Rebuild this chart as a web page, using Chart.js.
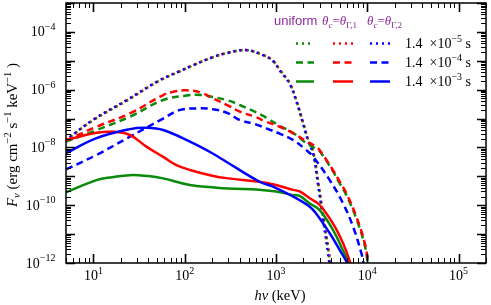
<!DOCTYPE html>
<html>
<head>
<meta charset="utf-8">
<script src="https://cdn.jsdelivr.net/npm/chart.js@4.4.1/dist/chart.umd.min.js"></script>
<style>
  html, body { margin: 0; padding: 0; background: #fff; }
</style>
</head>
<body>
<canvas id="sedChart" width="491" height="305"></canvas>
<script>
// photon energy (keV) and flux density (erg cm^-2 s^-1 keV^-1)

// 1.4e-5 s (dotted)
const energyDot = [5, 10, 23, 52, 87, 122, 203, 285, 470, 720, 925, 1100, 1410, 1670, 1980, 2240, 2550, 2890, 3280, 3720, 4000];
const fluxDotUniform = [1.8e-8, 8.9e-8, 4.1e-7, 2.0e-6, 4.2e-6, 6.8e-6, 1.32e-5, 1.82e-5, 2.34e-5, 1.58e-5, 1.0e-5, 4.8e-6, 1.66e-6, 4.2e-7, 7.1e-8, 1.9e-8, 7.1e-9, 6.3e-10, 4.2e-11, 3.2e-12, 6.3e-13];
const fluxDotTheta1 = [1.8e-8, 9.1e-8, 4.2e-7, 2.0e-6, 4.3e-6, 6.9e-6, 1.33e-5, 1.83e-5, 2.34e-5, 1.6e-5, 1.02e-5, 4.9e-6, 1.7e-6, 4.4e-7, 7.5e-8, 2.0e-8, 7.6e-9, 7.0e-10, 4.8e-11, 3.8e-12, 8.0e-13];
const fluxDotTheta2 = [1.8e-8, 9.3e-8, 4.3e-7, 2.05e-6, 4.3e-6, 6.9e-6, 1.33e-5, 1.83e-5, 2.34e-5, 1.56e-5, 9.8e-6, 4.6e-6, 1.58e-6, 3.9e-7, 6.5e-8, 1.7e-8, 6.0e-9, 5.0e-10, 3.2e-11, 2.0e-12, 4.0e-13];

// 1.4e-4 s (dashed)
const energyDashUniform = [5, 10.8, 25, 58, 105, 150, 203, 300, 400, 600, 780, 1100, 1535, 2150, 2750, 3000, 4200, 5000, 5900, 7600, 9400, 10200, 11000];
const fluxDashUniform = [1.58e-8, 4.0e-8, 1.15e-7, 4.4e-7, 6.3e-7, 6.6e-7, 5.6e-7, 4.2e-7, 2.95e-7, 1.66e-7, 1.07e-7, 5.6e-8, 3.2e-8, 1.41e-8, 8.9e-9, 7.6e-9, 1.51e-9, 5.6e-10, 2.24e-10, 3.4e-11, 4.0e-12, 8.9e-13, 2.0e-13];
const energyDashTheta1 = [5, 10.8, 25, 58, 75, 105, 150, 203, 300, 400, 600, 780, 1100, 1535, 2150, 2750, 3000, 4200, 5000, 5900, 7600, 9400, 10200, 11000];
const fluxDashTheta1 = [1.74e-8, 5.2e-8, 1.5e-7, 6.5e-7, 8.5e-7, 9.5e-7, 7.9e-7, 5.0e-7, 2.8e-7, 1.74e-7, 1.12e-7, 7.8e-8, 5.2e-8, 3.1e-8, 1.66e-8, 1.05e-8, 8.1e-9, 1.66e-9, 6.5e-10, 2.6e-10, 4.0e-11, 4.8e-12, 1.12e-12, 2.5e-13];
const energyDashTheta2 = [5, 10.8, 25, 58, 87, 133, 203, 300, 400, 600, 780, 1100, 1535, 2150, 2550, 3880, 5430, 7000, 8650, 9000, 9800];
const fluxDashTheta2 = [1.74e-9, 5.5e-9, 2.34e-8, 1.0e-7, 1.95e-7, 2.24e-7, 2.1e-7, 1.51e-7, 8.9e-8, 6.3e-8, 4.6e-8, 3.0e-8, 1.82e-8, 8.1e-9, 4.8e-9, 7.4e-10, 1.15e-10, 1.78e-11, 2.1e-12, 1.12e-12, 2.5e-13];

// 1.4e-3 s (solid)
const energySolidUniform = [5, 10.8, 16, 25, 40, 58, 114, 200, 300, 660, 1000, 1535, 1820, 2340, 3010, 4220, 5200, 6170, 6600];
const fluxSolidUniform = [2.8e-10, 7.4e-10, 9.3e-10, 1.1e-9, 1.02e-9, 8.5e-10, 5.0e-10, 4.2e-10, 3.8e-10, 3.4e-10, 3.0e-10, 2.24e-10, 2.1e-10, 1.15e-10, 6.8e-11, 1.38e-11, 3.6e-12, 1.12e-12, 5.0e-13];
const energySolidTheta1 = [5, 10.8, 16, 25, 38, 58, 80, 114, 200, 300, 660, 1000, 1535, 1820, 2340, 3010, 4220, 5430, 6460, 7000];
const fluxSolidTheta1 = [1.82e-8, 3.2e-8, 3.5e-8, 2.7e-8, 1.07e-8, 4.7e-9, 2.5e-9, 1.66e-9, 1.05e-9, 8.5e-10, 6.5e-10, 5.0e-10, 3.4e-10, 3.0e-10, 1.74e-10, 1.02e-10, 2.3e-11, 4.8e-12, 1.12e-12, 4.0e-13];
const energySolidTheta2 = [5, 10.8, 25, 38, 58, 114, 200, 285, 660, 925, 1535, 2340, 2750, 3880, 5000, 5900, 6400];
const fluxSolidTheta2 = [6.3e-9, 2.1e-8, 4.3e-8, 4.8e-8, 4.0e-8, 1.58e-8, 6.3e-9, 3.2e-9, 6.5e-10, 4.4e-10, 2.0e-10, 8.9e-11, 5.2e-11, 1.07e-11, 2.8e-12, 1.12e-12, 5.0e-13];

// axis ranges and labelled decades
const xRange = [5, 2e5];
const yRange = [1e-12, 1e-3];
const xTickExponents = [1, 2, 3, 4, 5];
const yTickExponents = [-12, -10, -8, -6, -4];
const legendTimes = [-5, -4, -3];

const GREEN = '#0a8a0a';
const RED = '#ff0000';
const BLUE = '#0000ff';
const PURPLE = '#8e2a9c';
const DOT = [2, 4];
const DASH = [7, 4.5];
const SERIF = '"Liberation Serif", "Times New Roman", serif';
const SANS = '"Liberation Sans", Arial, sans-serif';

function makeSet(energies, fluxes, color, dash, order, dashOffset) {
  return {
    data: energies.map((e, i) => ({ x: e, y: fluxes[i] })),
    borderColor: color,
    borderDash: dash,
    borderDashOffset: dashOffset || 0,
    borderWidth: 2.5,
    borderCapStyle: 'butt',
    pointRadius: 0,
    fill: false,
    tension: 0.4,
    order: order
  };
}

// draw a run of text pieces (for super/subscripts)
function richWidth(ctx, parts) {
  let w = 0;
  parts.forEach(p => { ctx.font = p.font; w += ctx.measureText(p.text).width; });
  return w;
}
function drawRich(ctx, parts, x, y, align) {
  const w = richWidth(ctx, parts);
  let cx = align === 'center' ? x - w / 2 : align === 'right' ? x - w : x;
  parts.forEach(p => {
    ctx.font = p.font;
    ctx.fillText(p.text, cx, y + (p.dy || 0));
    cx += ctx.measureText(p.text).width;
  });
}
function powerParts(exp) {
  return [
    { text: '10', font: `14px ${SERIF}` },
    { text: exp < 0 ? '\u2212' + (-exp) : String(exp), font: `10px ${SERIF}`, dy: -6.5 }
  ];
}

// frame, inward ticks, labels, titles and the legend grid
const decorPlugin = {
  id: 'decor',
  afterDraw(chart) {
    const { ctx, chartArea: a, scales: { x, y } } = chart;
    ctx.save();
    ctx.strokeStyle = '#000';
    ctx.fillStyle = '#000';

    // ticks on x (bottom + top)
    for (let d = 0; d <= 5; d++) {
      for (let k = 1; k <= 9; k++) {
        const v = k * Math.pow(10, d);
        if (v < xRange[0] || v > xRange[1]) continue;
        const px = Math.round(x.getPixelForValue(v)) + 0.5;
        const len = k === 1 ? 9 : 5;
        ctx.lineWidth = k === 1 ? 1.6 : 1;
        ctx.beginPath();
        ctx.moveTo(px, a.bottom); ctx.lineTo(px, a.bottom - len);
        ctx.moveTo(px, a.top); ctx.lineTo(px, a.top + len);
        ctx.stroke();
      }
    }
    // ticks on y (left + right)
    for (let d = -12; d <= -3; d++) {
      for (let k = 1; k <= 9; k++) {
        const v = k * Math.pow(10, d);
        if (v < yRange[0] * 0.999 || v > yRange[1] * 1.001) continue;
        const py = Math.round(y.getPixelForValue(v)) + 0.5;
        const len = k === 1 ? 9 : 5;
        ctx.lineWidth = k === 1 ? 1.6 : 1;
        ctx.beginPath();
        ctx.moveTo(a.left, py); ctx.lineTo(a.left + len, py);
        ctx.moveTo(a.right, py); ctx.lineTo(a.right - len, py);
        ctx.stroke();
      }
    }
    // frame
    ctx.lineWidth = 1.5;
    ctx.strokeRect(a.left, a.top, a.right - a.left, a.bottom - a.top);

    // tick labels
    ctx.textAlign = 'left';
    ctx.textBaseline = 'alphabetic';
    xTickExponents.forEach(e => {
      drawRich(ctx, powerParts(e), x.getPixelForValue(Math.pow(10, e)), 280, 'center');
    });
    yTickExponents.forEach(e => {
      drawRich(ctx, powerParts(e), a.left - 10.5, y.getPixelForValue(Math.pow(10, e)) + 4.5, 'right');
    });

    // axis titles
    drawRich(ctx, [
      { text: 'h\u03bd', font: `italic 14.5px ${SERIF}` },
      { text: ' (keV)', font: `14.5px ${SERIF}` }
    ], 280, 300, 'center');

    ctx.save();
    ctx.translate(17, 135);
    ctx.rotate(-Math.PI / 2);
    drawRich(ctx, [
      { text: 'F', font: `italic 15px ${SERIF}` },
      { text: '\u03bd', font: `italic 10.5px ${SERIF}`, dy: 3 },
      { text: ' (erg cm', font: `15px ${SERIF}` },
      { text: '\u22122', font: `10.5px ${SERIF}`, dy: -6.5 },
      { text: ' s', font: `15px ${SERIF}` },
      { text: '\u22121', font: `10.5px ${SERIF}`, dy: -6.5 },
      { text: ' keV', font: `15px ${SERIF}` },
      { text: '\u22121', font: `10.5px ${SERIF}`, dy: -6.5 },
      { text: ' )', font: `15px ${SERIF}` }
    ], 0, 0, 'center');
    ctx.restore();

    // legend headers
    ctx.fillStyle = PURPLE;
    ctx.font = `13px ${SANS}`;
    ctx.fillText('uniform', 274, 25);
    [['1', 322], ['2', 367]].forEach(([n, hx]) => {
      drawRich(ctx, [
        { text: '\u03b8', font: `italic 13px ${SERIF}` },
        { text: 'c', font: `italic 9px ${SERIF}`, dy: 3 },
        { text: '=', font: `13px ${SERIF}` },
        { text: '\u03b8', font: `italic 13px ${SERIF}` },
        { text: '\u0393,' + n, font: `9px ${SERIF}`, dy: 3 }
      ], hx, 25, 'left');
    });

    // legend rows: line samples + time labels
    const rowY = [43.5, 62.5, 81.5];
    const rowDash = [DOT, DASH, []];
    const cols = [[GREEN, 296, 314], [RED, 333, 353], [BLUE, 370, 390]];
    ctx.lineWidth = 2.5;
    ctx.lineCap = 'butt';
    rowY.forEach((ry, r) => {
      cols.forEach(([c, x0, x1]) => {
        ctx.strokeStyle = c;
        ctx.setLineDash(rowDash[r]);
        ctx.beginPath();
        ctx.moveTo(x0, ry); ctx.lineTo(x1, ry);
        ctx.stroke();
      });
      ctx.setLineDash([]);
      ctx.fillStyle = '#000';
      drawRich(ctx, [
        { text: '1.4  \u00d710', font: `14px ${SERIF}` },
        { text: '\u2212' + (-legendTimes[r]), font: `10px ${SERIF}`, dy: -6.5 },
        { text: ' s', font: `14px ${SERIF}` }
      ], 405, ry + 4.5, 'left');
    });
    ctx.restore();
  }
};

new Chart(document.getElementById('sedChart'), {
  type: 'line',
  data: {
    datasets: [
      makeSet(energyDot, fluxDotUniform, GREEN, DOT, 9, 0),
      makeSet(energyDot, fluxDotTheta1, RED, DOT, 8, 0.8),
      makeSet(energyDot, fluxDotTheta2, BLUE, DOT, 7, 1.6),
      makeSet(energyDashUniform, fluxDashUniform, GREEN, DASH, 6, 0),
      makeSet(energyDashTheta1, fluxDashTheta1, RED, DASH, 5, 0),
      makeSet(energyDashTheta2, fluxDashTheta2, BLUE, DASH, 4, 0),
      makeSet(energySolidUniform, fluxSolidUniform, GREEN, [], 3),
      makeSet(energySolidTheta1, fluxSolidTheta1, RED, [], 2),
      makeSet(energySolidTheta2, fluxSolidTheta2, BLUE, [], 1)
    ]
  },
  options: {
    responsive: false,
    animation: false,
    devicePixelRatio: 1,
    layout: { padding: { top: 3, right: 5, left: 0, bottom: 0 } },
    elements: { line: { capBezierPoints: false } },
    plugins: { legend: { display: false }, tooltip: { enabled: false } },
    scales: {
      x: {
        type: 'logarithmic',
        min: xRange[0], max: xRange[1],
        ticks: { display: false },
        grid: { display: false },
        border: { display: false },
        afterFit: s => { s.height = 42; }
      },
      y: {
        type: 'logarithmic',
        min: yRange[0], max: yRange[1],
        ticks: { display: false },
        grid: { display: false },
        border: { display: false },
        afterFit: s => { s.width = 66; }
      }
    }
  },
  plugins: [decorPlugin]
});
</script>
</body>
</html>
